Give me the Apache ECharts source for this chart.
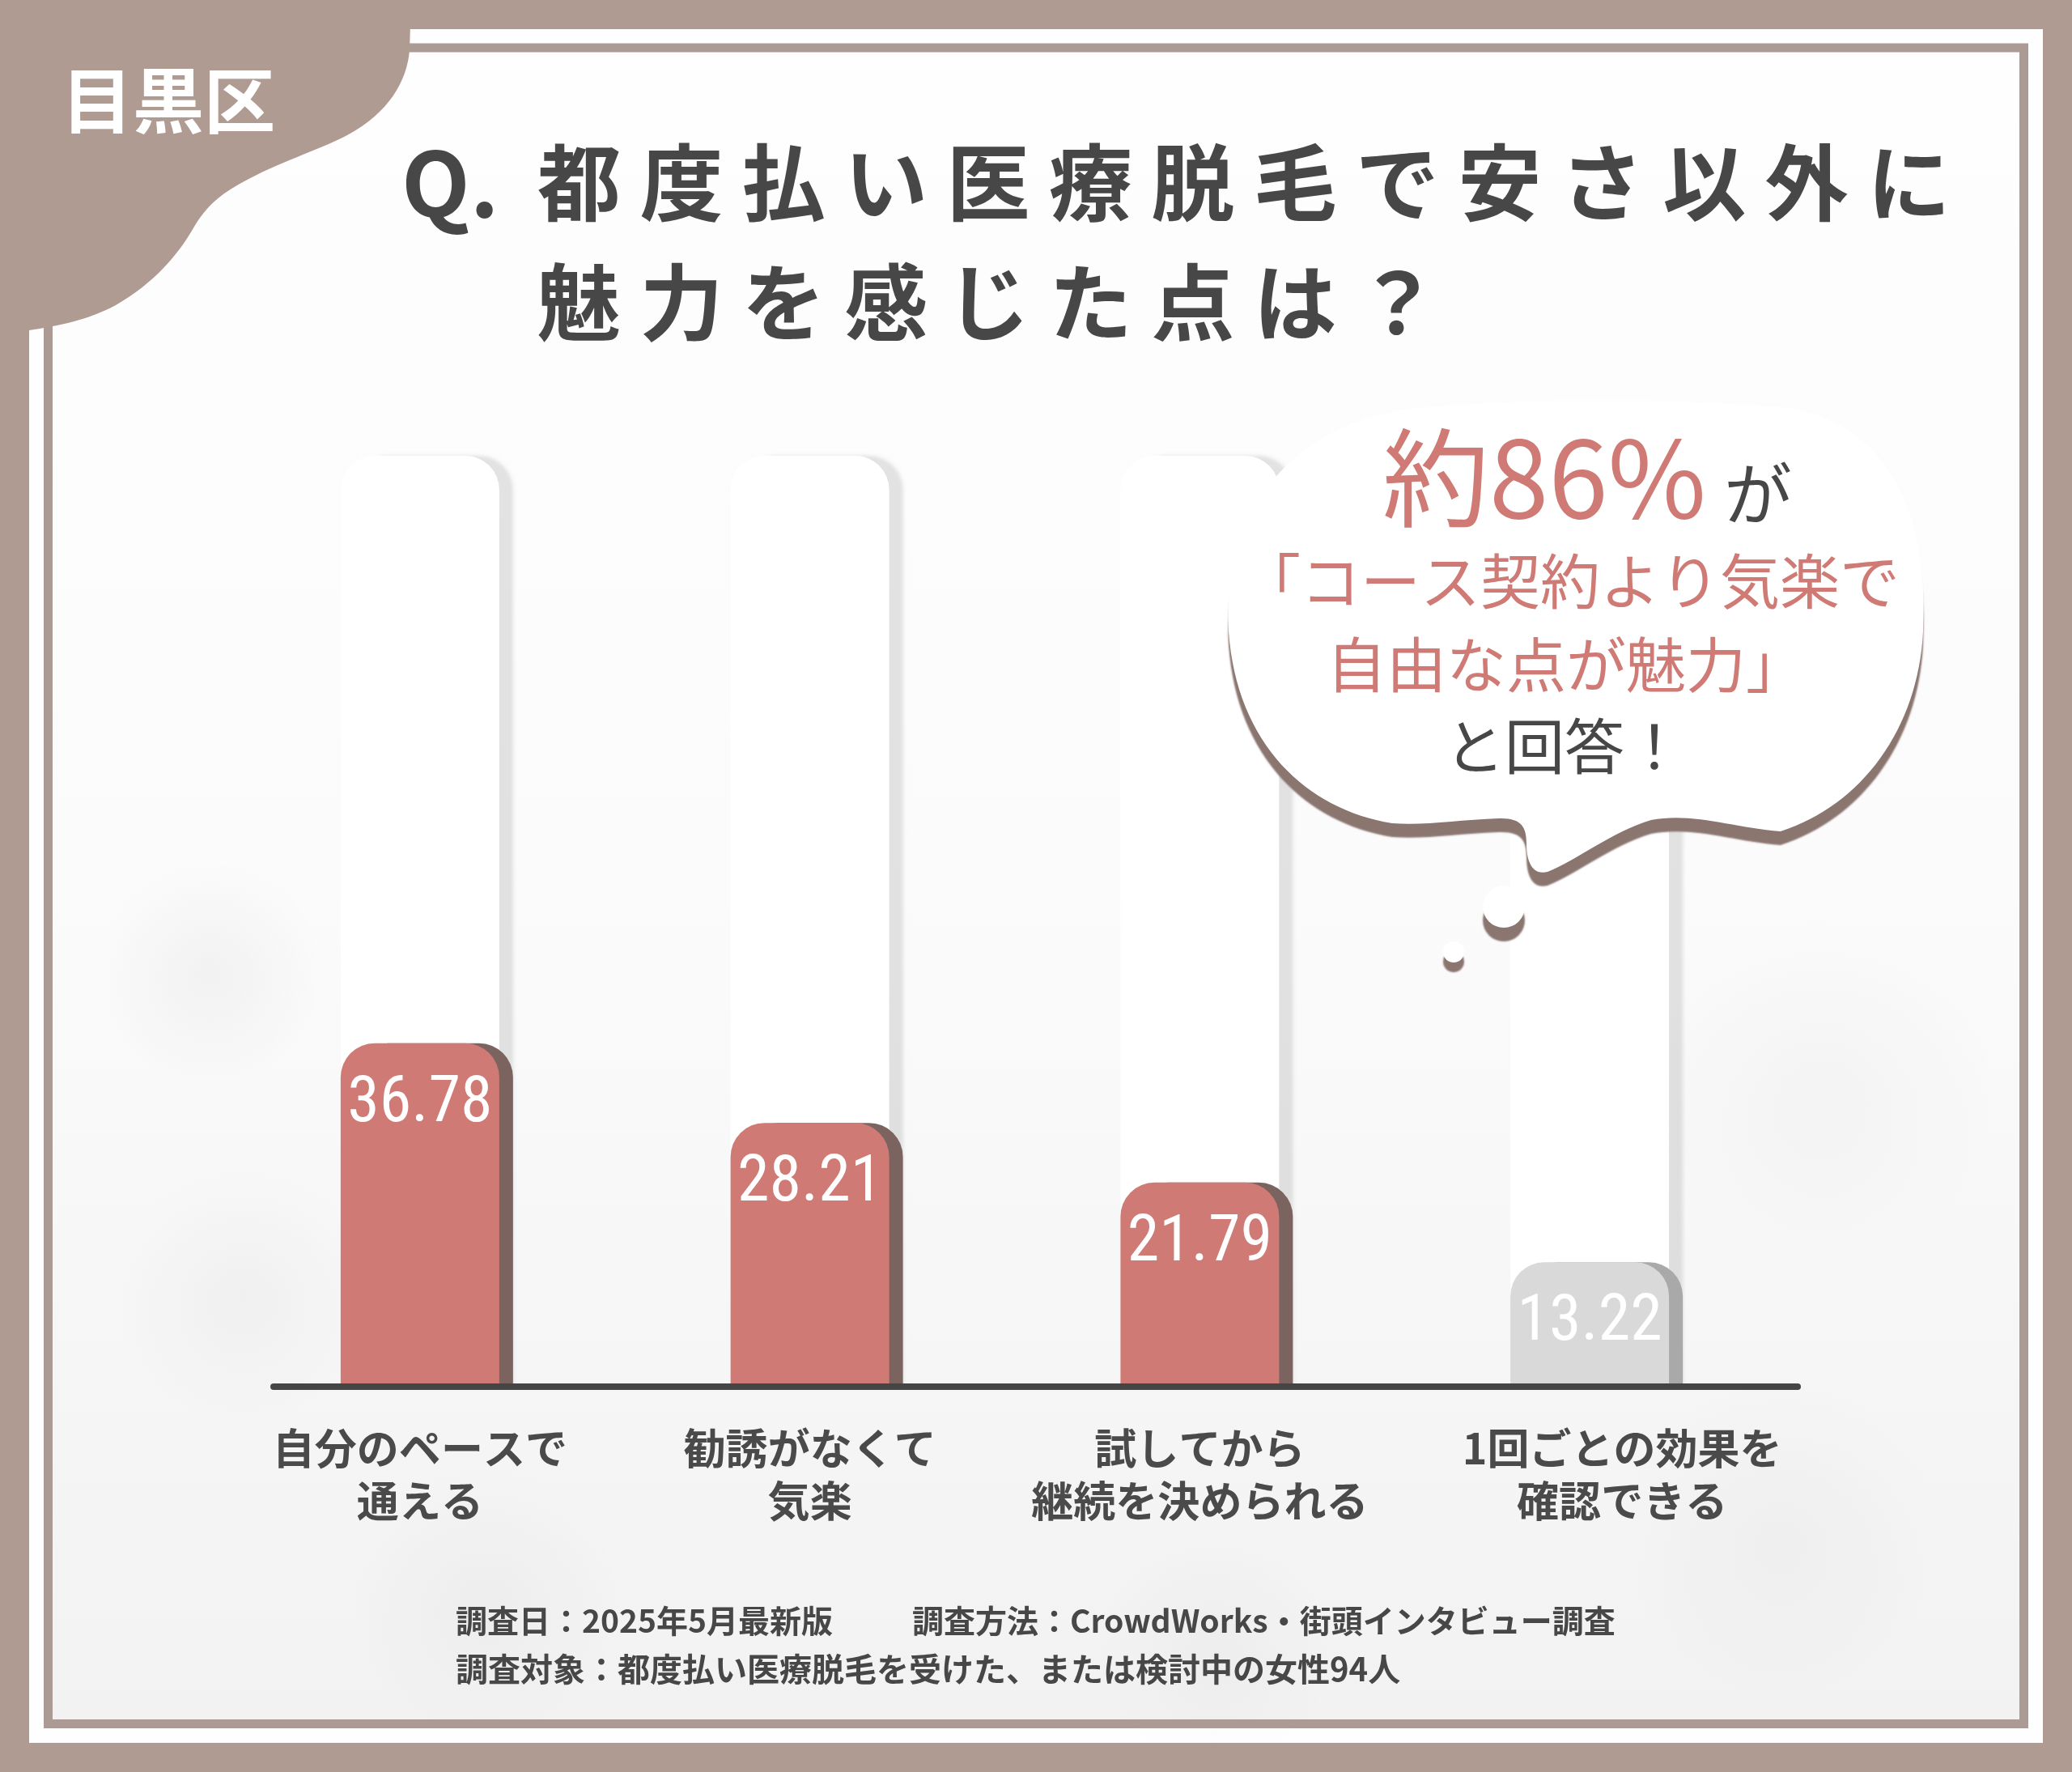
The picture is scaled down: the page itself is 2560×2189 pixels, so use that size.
<!DOCTYPE html>
<html>
<head>
<meta charset="utf-8">
<script src="https://cdn.jsdelivr.net/npm/echarts@6.0.0/dist/echarts.min.js"></script>
<style>
html,body{margin:0;padding:0;background:#b09b92;}
#chart{width:2560px;height:2189px;}
</style>
</head>
<body>
<div id="chart"></div>
<script>
// ---- data ----
const categories = ['自分のペースで\n通える', '勧誘がなくて\n気楽', '試してから\n継続を決められる', '1回ごとの効果を\n確認できる'];
const values = [36.78, 28.21, 21.79, 13.22];
const valueMin = 0;
const valueMax = 100;
const badgeText = '目黒区';
const titleQ = 'Q.';
const titleLine1 = '都度払い医療脱毛で安さ以外に';
const titleLine2 = '魅力を感じた点は？';
const bubbleBig = '約86%';
const bubbleGa = 'が';
const bubbleLines = ['「コース契約より気楽で', '自由な点が魅力」', 'と回答！'];
const footer1a = '調査日：2025年5月最新版';
const footer1b = '調査方法：CrowdWorks・街頭インタビュー調査';
const footer2 = '調査対象：都度払い医療脱毛を受けた、または検討中の女性94人';

// ---- styles ----
const TAUPE = '#b09b92';
const SALMON = '#cf7a74';
const DARK = '#474747';
const JP = "'Noto Sans CJK JP', 'Noto Sans', sans-serif";
const NARROW = "Roboto, 'DejaVu Sans', sans-serif";
const mutedIndex = 3;

const spaced = s => s.split('').join(' ');

const bubblePath = 'M 1518 780 ' +
  'C 1512 640, 1585 520, 1760 503 ' +
  'C 1900 492, 2060 492, 2200 503 ' +
  'C 2335 518, 2384 640, 2376 780 ' +
  'C 2370 900, 2300 995, 2200 1027 ' +
  'C 2140 1022, 2090 1003, 2040 1013 ' +
  'C 1990 1028, 1950 1062, 1912 1077 ' +
  'C 1892 1082, 1886 1062, 1886 1042 ' +
  'C 1886 1022, 1880 1010, 1852 1011 ' +
  'C 1800 1013, 1760 1020, 1720 1017 ' +
  'C 1615 1000, 1528 920, 1518 780 Z';

const badgePath = 'M 0 0 L 508 0 L 506 62 ' +
  'C 503 100, 480 140, 429 167 ' +
  'C 390 187, 345 200, 300 225 ' +
  'C 272 240, 255 255, 240 280 ' +
  'C 220 315, 190 350, 143 377 ' +
  'C 110 395, 70 403, 36 408 L 0 410 Z';

echarts.graphic.registerShape('bubbleShape', echarts.graphic.extendPath(bubblePath, {}));
echarts.graphic.registerShape('badgeShape', echarts.graphic.extendPath(badgePath, {}));

const chart = echarts.init(document.getElementById('chart'), null, {renderer: 'canvas'});

const barData = values.map((v, i) => i === mutedIndex ? {
  value: v,
  itemStyle: {color: '#d9d9d9', shadowColor: '#a9a9a9'}
} : v);

const catData = categories.map((c, i) => i === mutedIndex ? {
  value: c, textStyle: {padding: [0, 0, 0, 80]}
} : c);

const rg = (a) => new echarts.graphic.RadialGradient(0.5, 0.5, 0.5, [
  {offset: 0, color: 'rgba(90,90,90,' + a + ')'},
  {offset: 1, color: 'rgba(90,90,90,0)'}
]);

const bubbleShadow = {shadowColor: '#8a756f', shadowOffsetY: 17, shadowBlur: 2};

const option = {
  backgroundColor: TAUPE,
  animation: false,
  grid: [
    {left: 278, right: 355, top: 563, bottom: 478},
    {left: 338, right: 339, top: 563, bottom: 476}
  ],
  xAxis: [
    {
      type: 'category', gridIndex: 0, data: catData,
      axisLine: {show: false}, axisTick: {show: false},
      axisLabel: {
        interval: 0, margin: 46, fontSize: 52, fontWeight: 'bold',
        color: '#4a4a4a', lineHeight: 65, fontFamily: JP
      }
    },
    {
      type: 'category', gridIndex: 1, data: [''],
      axisLine: {show: true, lineStyle: {color: '#454545', width: 8}},
      axisTick: {show: false}, axisLabel: {show: false}, z: 5
    }
  ],
  yAxis: [
    {type: 'value', gridIndex: 0, min: valueMin, max: valueMax, show: false},
    {type: 'value', gridIndex: 1, min: valueMin, max: valueMax, show: false}
  ],
  series: [{
    type: 'bar', xAxisIndex: 0, yAxisIndex: 0, data: barData, barWidth: 196,
    showBackground: true,
    backgroundStyle: {
      color: '#ffffff', borderRadius: [42, 42, 0, 0],
      shadowColor: 'rgba(0,0,0,0.10)', shadowOffsetX: 17, shadowBlur: 4
    },
    itemStyle: {
      color: SALMON, borderRadius: [42, 42, 0, 0],
      shadowColor: '#7b6460', shadowOffsetX: 17, shadowBlur: 0
    },
    label: {
      show: true, position: 'insideTop', distance: 36, color: '#ffffff',
      fontSize: 80, fontStyle: 'condensed', fontFamily: NARROW,
      formatter: p => p.value.toFixed(2)
    },
    z: 3
  }],
  graphic: [
    // frame
    {type: 'rect', z: -20, shape: {x: 36, y: 36, width: 2488, height: 2117}, style: {fill: '#fefefe'}},
    {type: 'rect', z: -19, shape: {x: 65, y: 65, width: 2430, height: 2059},
      style: {fill: new echarts.graphic.LinearGradient(0, 0, 0, 1, [
        {offset: 0, color: '#fefefe'}, {offset: 0.5, color: '#fbfbfb'}, {offset: 1, color: '#f2f2f2'}
      ])}},
    {type: 'ellipse', z: -18, rotation: 0.6, x: 260, y: 1200, shape: {cx: 0, cy: 0, rx: 420, ry: 140}, style: {fill: rg(0.055)}},
    {type: 'ellipse', z: -18, rotation: 0.4, x: 300, y: 1600, shape: {cx: 0, cy: 0, rx: 480, ry: 160}, style: {fill: rg(0.045)}},
    {type: 'ellipse', z: -18, rotation: -0.2, x: 600, y: 1980, shape: {cx: 0, cy: 0, rx: 700, ry: 170}, style: {fill: rg(0.04)}},
    {type: 'ellipse', z: -18, rotation: 0.1, x: 1500, y: 2040, shape: {cx: 0, cy: 0, rx: 800, ry: 150}, style: {fill: rg(0.035)}},
    {type: 'ellipse', z: -18, rotation: 0.3, x: 2250, y: 1350, shape: {cx: 0, cy: 0, rx: 360, ry: 220}, style: {fill: rg(0.035)}},
    {type: 'ellipse', z: -18, rotation: 0.2, x: 2200, y: 1900, shape: {cx: 0, cy: 0, rx: 500, ry: 200}, style: {fill: rg(0.035)}},
    {type: 'rect', z: -17, shape: {x: 59.5, y: 59, width: 2441, height: 2070.5},
      style: {fill: 'none', stroke: '#ab9b94', lineWidth: 11}},
    // badge
    {type: 'badgeShape', z: 20, style: {fill: TAUPE}},
    {type: 'text', z: 21, x: 208, y: 124, style: {
      text: badgeText, fill: '#ffffff', fontSize: 88, fontWeight: 'bold', fontFamily: JP,
      align: 'center', verticalAlign: 'middle'}},
    // title
    {type: 'text', z: 21, x: 496, y: 226, style: {
      text: titleQ, fill: DARK, fontSize: 110, fontWeight: 'bold', fontFamily: JP,
      align: 'left', verticalAlign: 'middle'}},
    {type: 'text', z: 21, x: 664, y: 226, style: {
      text: spaced(titleLine1), fill: DARK, fontSize: 103, fontWeight: 'bold', fontFamily: JP,
      align: 'left', verticalAlign: 'middle'}},
    {type: 'text', z: 21, x: 664, y: 374, style: {
      text: spaced(titleLine2), fill: DARK, fontSize: 103, fontWeight: 'bold', fontFamily: JP,
      align: 'left', verticalAlign: 'middle'}},
    // bubble
    {type: 'bubbleShape', z: 30, style: Object.assign({fill: '#ffffff'}, bubbleShadow)},
    {type: 'circle', z: 30, shape: {cx: 1858, cy: 1120, r: 26}, style: Object.assign({fill: '#ffffff'}, bubbleShadow)},
    {type: 'circle', z: 30, shape: {cx: 1796, cy: 1176, r: 13}, style: {fill: '#ffffff', shadowColor: '#8a756f', shadowOffsetY: 12, shadowBlur: 2}},
    {type: 'text', z: 31, x: 2108, y: 590, style: {
      text: bubbleBig, fill: SALMON, fontSize: 132, fontWeight: 'normal', fontFamily: JP,
      align: 'right', verticalAlign: 'middle'}},
    {type: 'text', z: 31, x: 2130, y: 610, style: {
      text: bubbleGa, fill: DARK, fontSize: 84, fontWeight: 'normal', fontFamily: JP,
      align: 'left', verticalAlign: 'middle'}},
    {type: 'text', z: 31, x: 1940, y: 718, style: {
      text: bubbleLines[0], fill: SALMON, fontSize: 74, fontFamily: JP,
      align: 'center', verticalAlign: 'middle'}},
    {type: 'text', z: 31, x: 1935, y: 821, style: {
      text: bubbleLines[1], fill: SALMON, fontSize: 74, fontFamily: JP,
      align: 'center', verticalAlign: 'middle'}},
    {type: 'text', z: 31, x: 1933, y: 922, style: {
      text: bubbleLines[2], fill: DARK, fontSize: 74, fontFamily: JP,
      align: 'center', verticalAlign: 'middle'}},
    // footer
    {type: 'text', z: 21, x: 563, y: 2002, style: {
      text: footer1a, fill: DARK, fontSize: 39, fontWeight: 'bold', fontFamily: JP,
      align: 'left', verticalAlign: 'middle'}},
    {type: 'text', z: 21, x: 1127, y: 2002, style: {
      text: footer1b, fill: DARK, fontSize: 39, fontWeight: 'bold', fontFamily: JP,
      align: 'left', verticalAlign: 'middle'}},
    {type: 'text', z: 21, x: 563, y: 2062, style: {
      text: footer2, fill: DARK, fontSize: 40, fontWeight: 'bold', fontFamily: JP,
      align: 'left', verticalAlign: 'middle'}}
  ]
};
chart.setOption(option);
</script>
</body>
</html>
